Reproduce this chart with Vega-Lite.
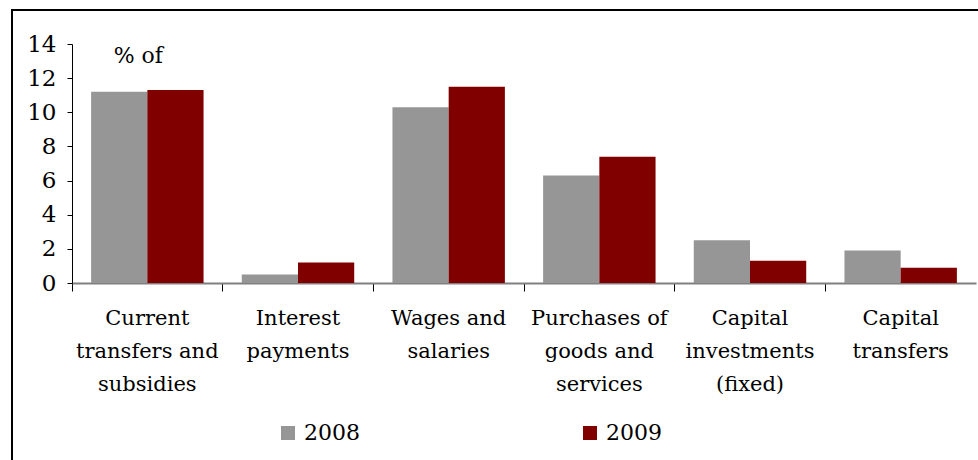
{
  "$schema": "https://vega.github.io/schema/vega-lite/v6.json",
  "autosize": {"type": "none"},
  "padding": {"left": 12, "top": 10, "right": 0, "bottom": 0},
  "width": 978,
  "height": 480,
  "background": "white",
  "config": {
    "view": {"stroke": "black", "strokeWidth": 2},
    "font": "DejaVu Serif",
    "axis": {"labelFont": "DejaVu Serif", "labelColor": "black", "labelFontSize": 21, "grid": false, "title": null},
    "legend": {"labelFont": "DejaVu Serif"}
  },
  "data": {
    "values": [
      {"category": "Current transfers and subsidies", "year": "2008", "value": 11.2},
      {"category": "Current transfers and subsidies", "year": "2009", "value": 11.3},
      {"category": "Interest payments", "year": "2008", "value": 0.5},
      {"category": "Interest payments", "year": "2009", "value": 1.2},
      {"category": "Wages and salaries", "year": "2008", "value": 10.3},
      {"category": "Wages and salaries", "year": "2009", "value": 11.5},
      {"category": "Purchases of goods and services", "year": "2008", "value": 6.3},
      {"category": "Purchases of goods and services", "year": "2009", "value": 7.4},
      {"category": "Capital investments (fixed)", "year": "2008", "value": 2.5},
      {"category": "Capital investments (fixed)", "year": "2009", "value": 1.3},
      {"category": "Capital transfers", "year": "2008", "value": 1.9},
      {"category": "Capital transfers", "year": "2009", "value": 0.9}
    ]
  },
  "layer": [
    {
      "mark": {"type": "bar"},
      "encoding": {
        "x": {
          "field": "category", "type": "nominal", "sort": null,
          "scale": {"range": [60, 964], "paddingInner": 0, "paddingOuter": 0},
          "axis": {
            "orient": "bottom", "offset": -207, "bandPosition": 0,
            "domainColor": "#808080", "domainWidth": 2,
            "tickColor": "black", "tickSize": 8, "tickWidth": 1,
            "labelAngle": 0, "labelPadding": 27, "labelLineHeight": 33, "labelBaseline": "middle",
            "labelLimit": 200,
            "labelExpr": "datum.value == 'Current transfers and subsidies' ? ['Current', 'transfers and', 'subsidies'] : datum.value == 'Interest payments' ? ['Interest', 'payments'] : datum.value == 'Wages and salaries' ? ['Wages and', 'salaries'] : datum.value == 'Purchases of goods and services' ? ['Purchases of', 'goods and', 'services'] : datum.value == 'Capital investments (fixed)' ? ['Capital', 'investments', '(fixed)'] : ['Capital', 'transfers']"
          }
        },
        "xOffset": {"field": "year", "type": "nominal", "scale": {"paddingInner": 0, "paddingOuter": 0.34}},
        "y": {
          "field": "value", "type": "quantitative",
          "scale": {"domain": [0, 14], "range": [273, 34], "nice": false, "zero": true},
          "axis": {
            "orient": "left", "offset": -60, "values": [0, 2, 4, 6, 8, 10, 12, 14],
            "labelFontSize": 23,
            "domainColor": "black", "domainWidth": 1,
            "tickColor": "black", "tickSize": 5, "labelPadding": 11
          }
        },
        "color": {
          "field": "year", "type": "nominal",
          "scale": {"domain": ["2008", "2009"], "range": ["#969696", "#800000"]},
          "legend": {
            "title": null, "orient": "none", "direction": "horizontal", "columns": 2,
            "legendX": 265, "legendY": 412, "padding": 0,
            "symbolType": "square", "symbolSize": 196, "symbolStrokeWidth": 0, "symbolOpacity": 1,
            "labelFontSize": 22, "labelColor": "black", "labelOffset": 5,
            "columnPadding": 219
          }
        }
      }
    },
    {
      "data": {"values": [{"label": "% of"}]},
      "mark": {"type": "text", "font": "DejaVu Serif", "fontSize": 22, "align": "center", "baseline": "middle", "color": "black"},
      "encoding": {
        "x": {"datum": "Current transfers and subsidies", "type": "nominal", "bandPosition": 0.44},
        "y": {"datum": 13.3, "type": "quantitative"},
        "text": {"field": "label", "type": "nominal"}
      }
    }
  ]
}
